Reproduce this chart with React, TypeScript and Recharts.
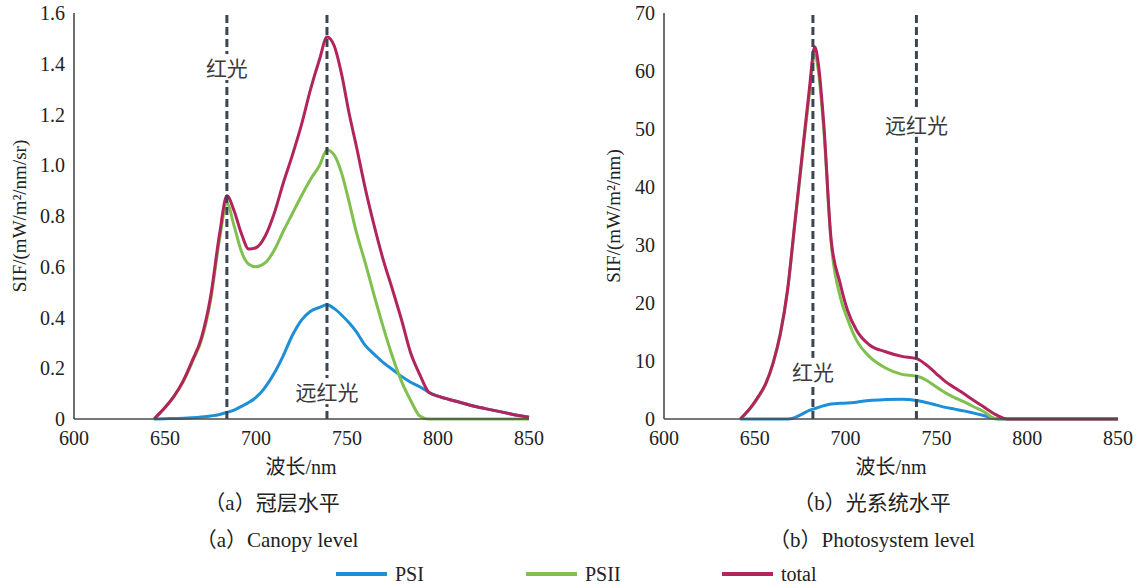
import { LineChart, Line, XAxis, YAxis, ReferenceLine, ReferenceDot } from 'recharts';

const SERIF = '"Liberation Serif", "Times New Roman", "DejaVu Serif", serif, "Noto Sans CJK SC"';
const CJK = '"Noto Sans CJK SC", sans-serif';

// (a) canopy level, SIF in mW/m2/nm/sr
const wavelengthA = [644, 650, 655, 660, 665, 670, 675, 680, 684, 688, 692, 696, 700, 705, 710, 715, 720, 725, 730, 735, 739, 743, 747, 751, 755, 760, 765, 770, 775, 780, 785, 790, 795, 800, 810, 820, 830, 840, 850];
const psiA = [0, 0.001, 0.002, 0.003, 0.005, 0.008, 0.012, 0.018, 0.026, 0.035, 0.05, 0.065, 0.085, 0.125, 0.18, 0.25, 0.33, 0.39, 0.425, 0.44, 0.45, 0.435, 0.41, 0.38, 0.345, 0.29, 0.255, 0.222, 0.195, 0.168, 0.145, 0.127, 0.105, 0.09, 0.07, 0.05, 0.035, 0.02, 0.007];
const psiiA = [0, 0.045, 0.09, 0.147, 0.225, 0.31, 0.465, 0.71, 0.85, 0.76, 0.66, 0.61, 0.6, 0.615, 0.665, 0.74, 0.81, 0.88, 0.945, 1.0, 1.06, 1.04, 0.97, 0.86, 0.74, 0.616, 0.485, 0.36, 0.245, 0.147, 0.073, 0.012, 0, 0, 0, 0, 0, 0, 0];
const totalA = [0, 0.045, 0.09, 0.15, 0.23, 0.32, 0.48, 0.73, 0.88, 0.82, 0.73, 0.67, 0.675, 0.72, 0.81, 0.93, 1.04, 1.16, 1.3, 1.42, 1.505, 1.47, 1.36, 1.21, 1.08, 0.91, 0.76, 0.625, 0.51, 0.39, 0.26, 0.175, 0.105, 0.09, 0.07, 0.05, 0.035, 0.02, 0.007];

// (b) photosystem level, SIF in mW/m2/nm
const wavelengthB = [642, 648, 652, 656, 660, 664, 668, 672, 676, 680, 683, 685, 688, 692, 697, 701, 706, 713, 722, 731, 739, 745, 750, 755, 760, 765, 770, 776, 783, 789, 800, 850];
const psiB = [0, 0, 0, 0, 0, 0, 0, 0.25, 0.85, 1.5, 1.8, 2.0, 2.3, 2.6, 2.7, 2.75, 2.9, 3.2, 3.35, 3.4, 3.2, 2.8, 2.4, 2.0, 1.7, 1.4, 1.05, 0.6, 0.05, 0, 0, 0];
const psiiB = [0, 2.0, 3.8, 6.0, 9.5, 14.5, 22.0, 33.4, 44.8, 55.8, 62.8, 60.0, 49.8, 30.5, 21.1, 17.3, 13.6, 10.8, 8.8, 7.7, 7.4, 6.6, 5.5, 4.5, 3.7, 3.0, 2.2, 1.3, 0, 0, 0, 0];
const totalB = [0, 2.1, 3.9, 6.1, 9.6, 14.6, 22.2, 33.7, 45.3, 56.8, 64.2, 61.2, 50.8, 31, 23.4, 18.8, 15.3, 12.8, 11.6, 10.8, 10.4, 9.2, 7.8, 6.45, 5.4, 4.4, 3.3, 2.1, 0.7, 0, 0, 0];

const xTicks = [600, 650, 700, 750, 800, 850];
const yTicksA = [0, 0.2, 0.4, 0.6, 0.8, 1.0, 1.2, 1.4, 1.6];
const yTicksB = [0, 10, 20, 30, 40, 50, 60, 70];

// band markers: wavelength of dashed line, height of its label
const bandsA = [
  { x: 684, label: '红光', labelY: 1.387 },
  { x: 739, label: '远红光', labelY: 0.11 },
];
const bandsB = [
  { x: 682, label: '红光', labelY: 8.3 },
  { x: 739, label: '远红光', labelY: 50.9 },
];

const seriesNames = ['PSI', 'PSII', 'total'];
const seriesKeys = ['psi', 'psii', 'total'];
const seriesColors = ['#1c8fd6', '#80c04e', '#b2245c'];
const legendLeft = [336, 526, 722];

const toRows = (wl: number[], psi: number[], psii: number[], total: number[]) =>
  wl.map((w, i) => ({ wl: w, psi: psi[i], psii: psii[i], total: total[i] }));

const axisStyle = { stroke: '#4a4a4a', strokeWidth: 1.6 };
const tickStyle = { fontSize: 20, fill: '#222', fontFamily: SERIF };

const bandLabel = (text: string) => (props: any) => {
  const { cx, cy } = props;
  const w = text.length * 21 + 6;
  return (
    <g>
      <rect x={cx - w / 2} y={cy - 13} width={w} height={26} fill="#fff" />
      <text x={cx} y={cy} textAnchor="middle" dominantBaseline="central" fontSize={21} fill="#3a3a3a" fontFamily={CJK}>
        {text}
      </text>
    </g>
  );
};

function Panel({ data, yMax, yTicks, yFormat, bands, width, margin }: any) {
  return (
    <LineChart width={width} height={470} data={data} margin={margin}>
      <XAxis dataKey="wl" type="number" domain={[600, 850]} ticks={xTicks} interval={0} tick={tickStyle} tickLine={false} tickMargin={6} axisLine={axisStyle} height={30} />
      <XAxis xAxisId="top" orientation="top" dataKey="wl" type="number" domain={[600, 850]} tick={false} tickLine={false} axisLine={axisStyle} height={0} />
      <YAxis type="number" domain={[0, yMax]} ticks={yTicks} interval={0} tickFormatter={yFormat} tick={tickStyle} tickLine={false} tickMargin={3} axisLine={axisStyle} width={60} />
      <YAxis yAxisId="right" orientation="right" type="number" domain={[0, yMax]} tick={false} tickLine={false} axisLine={axisStyle} width={0} />
      {seriesKeys.map((k, i) => (
        <Line key={k} dataKey={k} type="monotone" stroke={seriesColors[i]} strokeWidth={3} dot={false} isAnimationActive={false} />
      ))}
      {bands.map((b: any) => (
        <ReferenceLine key={'l' + b.x} x={b.x} stroke="#3b4652" strokeWidth={3} strokeDasharray="8 4" />
      ))}
      {bands.map((b: any) => (
        <ReferenceDot key={'d' + b.x} x={b.x} y={b.labelY} r={0} shape={bandLabel(b.label)} />
      ))}
    </LineChart>
  );
}

const textAt = (x: number, y: number, size: number, extra: any = {}) => ({
  position: 'absolute' as const,
  left: x,
  top: y,
  transform: 'translate(-50%, -50%)',
  fontSize: size,
  color: '#222',
  whiteSpace: 'nowrap' as const,
  fontFamily: SERIF,
  ...extra,
});

export default function App() {
  const dataA = toRows(wavelengthA, psiA, psiiA, totalA);
  const dataB = toRows(wavelengthB, psiB, psiiB, totalB);
  return (
    <div style={{ position: 'absolute', left: 0, top: 0, width: 1141, height: 586, background: '#fff', fontFamily: SERIF }}>
      <div style={{ position: 'absolute', left: 0, top: 0 }}>
        <Panel data={dataA} yMax={1.6} yTicks={yTicksA} yFormat={(v: number) => (v === 0 ? '0' : v.toFixed(1))} bands={bandsA} width={560} margin={{ top: 13, right: 31, bottom: 21, left: 14 }} />
      </div>
      <div style={{ position: 'absolute', left: 580, top: 0 }}>
        <Panel data={dataB} yMax={70} yTicks={yTicksB} yFormat={(v: number) => String(v)} bands={bandsB} width={561} margin={{ top: 13, right: 23, bottom: 21, left: 24 }} />
      </div>

      <div style={textAt(20, 216, 19, { transform: 'translate(-50%, -50%) rotate(-90deg)' })}>SIF/(mW/m²/nm/sr)</div>
      <div style={textAt(614, 216, 19, { transform: 'translate(-50%, -50%) rotate(-90deg)' })}>SIF/(mW/m²/nm)</div>

      <div style={textAt(301, 465, 20)}>波长/nm</div>
      <div style={textAt(891, 465, 20)}>波长/nm</div>

      <div style={textAt(272, 501, 21)}>（a）冠层水平</div>
      <div style={textAt(872, 501, 21)}>（b）光系统水平</div>
      <div style={textAt(277, 538, 21)}>（a）Canopy level</div>
      <div style={textAt(872, 538, 21)}>（b）Photosystem level</div>

      {seriesNames.map((name, i) => (
        <div key={name} style={{ position: 'absolute', left: legendLeft[i], top: 562, height: 24, display: 'flex', alignItems: 'center' }}>
          <div style={{ width: 51, height: 4, background: seriesColors[i] }} />
          <span style={{ marginLeft: 8, fontSize: 20, color: '#222', fontFamily: SERIF }}>{name}</span>
        </div>
      ))}
    </div>
  );
}
